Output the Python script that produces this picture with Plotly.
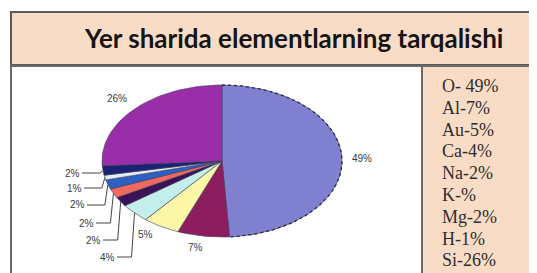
import math
import plotly.graph_objects as go

# The page places the figure 8px in from the top-left corner (default body margin),
# so the figure is made 8px smaller and every layout position is offset by 8px.
PAGE_W, PAGE_H, OFF = 537, 273, 8
W, H = PAGE_W - OFF, PAGE_H - OFF

# ---------------- data ----------------
title_text = "Yer sharida elementlarning tarqalishi"
slice_names = ["O", "Al", "Au", "Ca", "Na", "K", "Mg", "H", "boshqa", "Si"]
slice_values = [49, 7, 5, 4, 2, 2, 2, 1, 2, 26]
slice_labels = ["49%", "7%", "5%", "4%", "2%", "2%", "2%", "1%", "2%", "26%"]
legend_lines = ["O- 49%", "Al-7%", "Au-5%", "Ca-4%", "Na-2%", "K-%", "Mg-2%", "H-1%", "Si-26%"]
slice_colors = ["#7F80CF", "#8C1D5E", "#FBF7A6", "#C4EEEC", "#3B1157",
                "#F0695E", "#2C60C2", "#E4ECF6", "#1B2272", "#9A2EA8"]

# ---------------- layout parameters (page pixels) ----------------
CX, CY, RX, RY = 222, 161, 120, 76
label_px = [(362, 158), (195, 247), (145, 234), (107, 257), (93, 240),
            (86, 223), (77, 205), (74, 188), (72, 173), (117, 99)]
has_leader = [False, False, False, True, True, True, True, True, True, False]
PEACH = "#F9DCC6"


def px2data(px, py):
    return (px - CX) / RX, (CY - py) / RY


def px2paper(px, py):
    return (px - OFF) / W, 1 - (py - OFF) / H


fig = go.Figure()

total = sum(slice_values)
cum = 0.0
mids = []
for name, v, col in zip(slice_names, slice_values, slice_colors):
    a0 = 90 - 360 * cum / total
    a1 = 90 - 360 * (cum + v) / total
    n = max(4, int(abs(a1 - a0) / 2))
    xs, ys = [0.0], [0.0]
    for i in range(n + 1):
        a = math.radians(a0 + (a1 - a0) * i / n)
        xs.append(math.cos(a))
        ys.append(math.sin(a))
    xs.append(0.0)
    ys.append(0.0)
    fig.add_trace(go.Scatter(x=xs, y=ys, fill="toself", fillcolor=col, mode="lines",
                             line=dict(color="#3a3a5a", width=0.6), name=name,
                             hoverinfo="name", showlegend=False))
    mids.append(math.radians((a0 + a1) / 2))
    cum += v

# dashed outline around the largest slice
a0, a1 = 90, 90 - 360 * slice_values[0] / total
n = 90
fig.add_trace(go.Scatter(
    x=[math.cos(math.radians(a0 + (a1 - a0) * i / n)) for i in range(n + 1)],
    y=[math.sin(math.radians(a0 + (a1 - a0) * i / n)) for i in range(n + 1)],
    mode="lines", line=dict(color="#2a2a48", width=1.3, dash="dot"),
    hoverinfo="skip", showlegend=False))

# leader lines
for (lx, ly), lead, m in zip(label_px, has_leader, mids):
    if not lead:
        continue
    ex, ey = math.cos(m), math.sin(m)
    epx, epy = CX + RX * ex, CY - RY * ey
    sx, sy = px2data(lx + 10, ly)
    kx, ky = px2data(epx - 3, ly)
    fig.add_trace(go.Scatter(x=[sx, kx, ex], y=[sy, ky, ey], mode="lines",
                             line=dict(color="#444", width=1),
                             hoverinfo="skip", showlegend=False))

annotations = []
for (lx, ly), txt in zip(label_px, slice_labels):
    px_, py_ = px2paper(lx, ly)
    annotations.append(dict(x=px_, y=py_, xref="paper", yref="paper", text=txt,
                            showarrow=False, xanchor="center", yanchor="middle",
                            font=dict(family="Arial, Liberation Sans", size=10, color="#3a3a3a")))

# title
tx, ty = px2paper(293, 38)
annotations.append(dict(x=tx, y=ty, xref="paper", yref="paper", text="<b>" + title_text + "</b>",
                        showarrow=False, xanchor="center", yanchor="middle",
                        font=dict(family="Lato", size=26, color="#151515")))

# legend panel text
for i, line in enumerate(legend_lines):
    lx, ly = px2paper(440, 86 + i * 21.8)
    annotations.append(dict(x=lx, y=ly, xref="paper", yref="paper", text=line,
                            showarrow=False, xanchor="left", yanchor="middle",
                            font=dict(family="Liberation Serif", size=18, color="#2e2e2e")))


def rect(x0, y0, x1, y1, fill, lc):
    a0_, b0_ = px2paper(x0, y1)
    a1_, b1_ = px2paper(x1, y0)
    return dict(type="rect", xref="paper", yref="paper", x0=a0_, x1=a1_, y0=b0_, y1=b1_,
                fillcolor=fill, line=dict(color=lc, width=2), layer="below")


shapes = [
    rect(11, 12, PAGE_W + 6, 65, PEACH, "#5a5a5a"),
    rect(11, 66, 422, PAGE_H + 6, "white", "#6a6a6a"),
    rect(422, 66, PAGE_W + 6, PAGE_H + 6, PEACH, "#6a6a6a"),
]

# axis ranges so that one data unit equals the ellipse radii in pixels
x_range = [(OFF - CX) / RX, (PAGE_W - CX) / RX]
y_range = [(CY - PAGE_H) / RY, (CY - OFF) / RY]

fig.update_layout(
    width=W, height=H, margin=dict(l=0, r=0, t=0, b=0),
    paper_bgcolor="white", plot_bgcolor="rgba(0,0,0,0)",
    xaxis=dict(range=x_range, visible=False, fixedrange=True),
    yaxis=dict(range=y_range, visible=False, fixedrange=True),
    shapes=shapes, annotations=annotations, showlegend=False,
)

fig.write_html("out.html")
